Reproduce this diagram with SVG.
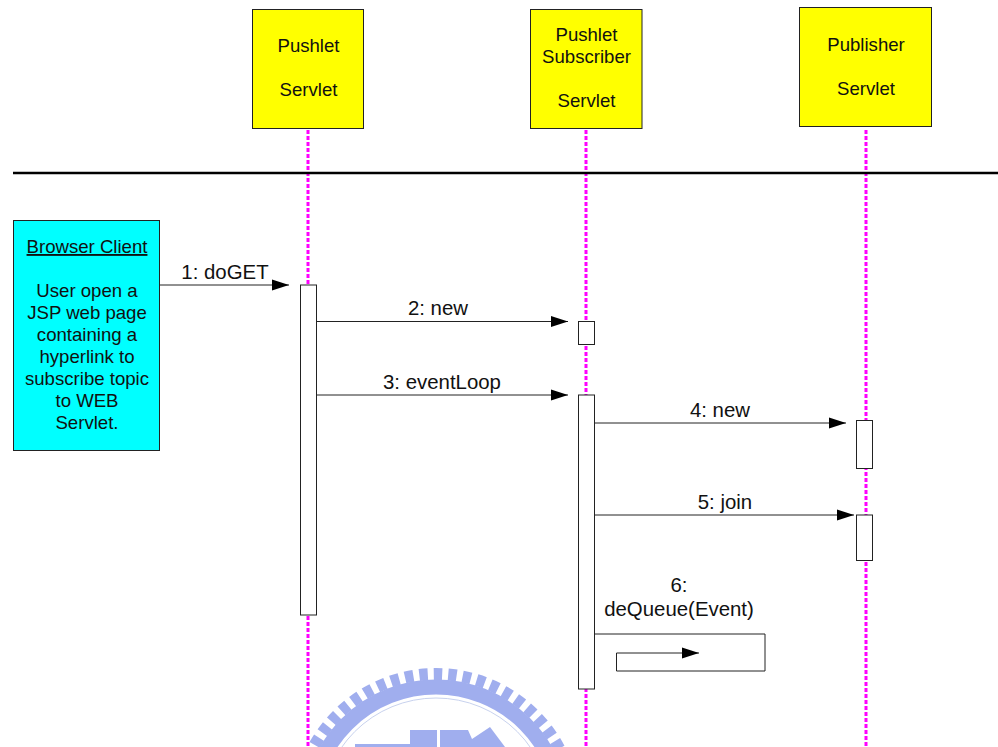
<svg xmlns="http://www.w3.org/2000/svg" width="998" height="747" viewBox="0 0 998 747">
<style>
text{font-family:"Liberation Sans",Arial,sans-serif;font-size:18.6px;fill:#111;text-anchor:middle}
#labels text{font-size:20.4px}
.n{fill:#ff0;stroke:#222;stroke-width:1}
.a{fill:#fff;stroke:#222;stroke-width:1}
.l{stroke:#f0f;stroke-width:3;stroke-dasharray:4 2;fill:none}
.c{stroke:#222;stroke-width:1;fill:none}
.logo{fill:#a0aeee}
</style>
<defs>
<marker id="h" markerUnits="userSpaceOnUse" markerWidth="17" markerHeight="12" refX="17" refY="6" orient="auto"><path d="M0 0.5L17 6L0 11.5z" fill="#000"/></marker>
</defs>
<rect width="998" height="747" fill="#fff"/>
<g id="watermark">
<circle cx="436" cy="813" r="139" fill="none" stroke="#a0aeee" stroke-width="12" stroke-dasharray="8.500 6"/>
<circle cx="436" cy="813" r="126" fill="none" stroke="#a0aeee" stroke-width="15"/>
<circle cx="436" cy="813" r="115" fill="none" stroke="#c8d2ee" stroke-width="1"/>
<path class="logo" d="M355 744H410V730H437V747H355zM440 730H468L472 739L490 727L505 747H440z"/>
</g>
<g id="lifelines">
<path class="l" d="M308 130V747M586 130V747M866 130V747"/>
</g>
<path id="divider" d="M13 173H998" stroke="#000" stroke-width="2.500"/>
<g id="pushlet-servlet"><rect class="n" x="252.500" y="9.500" width="111" height="119"/><text x="308.500" y="52">Pushlet</text><text x="308.500" y="96">Servlet</text></g>
<g id="subscriber-servlet"><rect class="n" x="530.500" y="9.500" width="111.500" height="119"/><text x="586.500" y="41">Pushlet</text><text x="586.500" y="63">Subscriber</text><text x="586.500" y="107">Servlet</text></g>
<g id="publisher-servlet"><rect class="n" x="799.500" y="7.500" width="132" height="119"/><text x="866" y="51">Publisher</text><text x="866" y="95">Servlet</text></g>
<g id="browser-client"><rect x="13.500" y="220.500" width="146" height="230" fill="#0ff" stroke="#222"/>
<text x="87" y="253" text-decoration="underline">Browser Client</text>
<text x="87" y="297">User open a</text><text x="87" y="319">JSP web page</text><text x="87" y="341">containing a</text><text x="87" y="363">hyperlink to</text><text x="87" y="385">subscribe topic</text><text x="87" y="407">to WEB</text><text x="87" y="429">Servlet.</text></g>
<g id="activations">
<rect class="a" x="300.500" y="285" width="16" height="330"/>
<rect class="a" x="578.500" y="321.500" width="16" height="23"/>
<rect class="a" x="578.500" y="395" width="16" height="294"/>
<rect class="a" x="856.500" y="420.500" width="16" height="48"/>
<rect class="a" x="856.500" y="515" width="16" height="45.500"/>
</g>
<g id="connectors">
<path class="c" marker-end="url(#h)" d="M160 285H289"/>
<path class="c" marker-end="url(#h)" d="M317 321.500H568"/>
<path class="c" marker-end="url(#h)" d="M317 395H568"/>
<path class="c" marker-end="url(#h)" d="M595 423H846"/>
<path class="c" marker-end="url(#h)" d="M595 515H854"/>
<path class="c" marker-end="url(#h)" d="M594 634H765V671H616.500V653H699"/>
</g>
<g id="labels">
<text x="225" y="279">1: doGET</text>
<text x="438" y="315">2: new</text>
<text x="442" y="389">3: eventLoop</text>
<text x="720" y="417">4: new</text>
<text x="725" y="509">5: join</text>
<text x="679" y="592">6:</text>
<text x="679" y="616">deQueue(Event)</text>
</g>
</svg>
